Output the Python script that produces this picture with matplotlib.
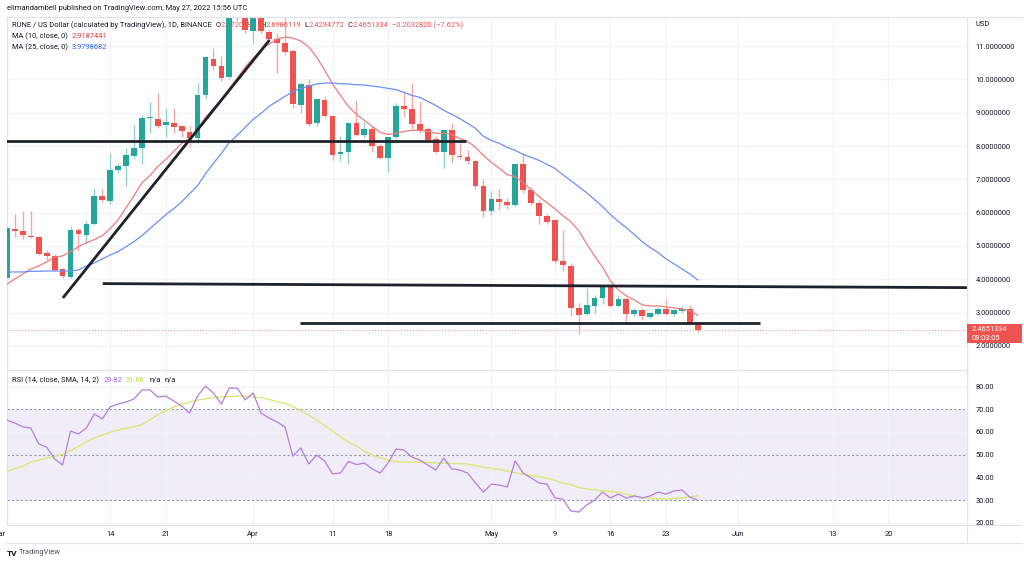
import numpy as np
import pandas as pd
import matplotlib
matplotlib.use("Agg")
import matplotlib.pyplot as plt
import matplotlib.dates as mdates
import matplotlib.transforms as mtransforms
from matplotlib.lines import Line2D
from matplotlib.patches import Rectangle

plt.rcParams['font.family'] = ['Roboto', 'DejaVu Sans']

# daily candles RUNE/USD, Mar 1 - May 27 2022
dates = pd.date_range("2022-03-01", "2022-05-27", freq="D")

opens = [4.05, 5.52, 5.46, 5.31, 5.28, 4.80, 4.70, 4.31, 4.07, 5.49,
         5.34, 5.67, 6.51, 6.36, 7.27, 7.39, 7.69, 7.93, 8.83, 8.80,
         8.62, 8.68, 8.59, 8.41, 8.23, 9.52, 10.61, 10.40, 10.07, 12.10,
         12.50, 11.45, 12.20, 11.42, 11.20, 11.09, 10.85, 9.22, 9.83, 8.68,
         9.37, 8.89, 7.75, 7.81, 8.68, 8.32, 8.50, 7.99, 7.63, 8.26,
         9.19, 9.10, 8.65, 8.50, 8.20, 7.81, 8.47, 7.69, 7.66, 7.54,
         6.81, 6.06, 6.42, 6.33, 6.24, 7.45, 6.69, 6.30, 5.91, 5.79,
         4.55, 4.40, 3.14, 2.96, 3.20, 3.44, 3.77, 3.20, 3.41, 2.96,
         3.08, 2.87, 2.96, 3.11, 2.96, 3.05, 3.11, 2.672]
highs = [5.62, 5.97, 6.06, 6.06, 5.30, 4.88, 4.75, 4.35, 5.60, 5.55,
         5.76, 6.75, 6.72, 7.78, 7.50, 7.95, 8.62, 8.92, 9.31, 9.58,
         9.13, 9.13, 8.62, 8.59, 9.88, 10.70, 10.94, 10.70, 12.30, 12.80,
         12.60, 12.50, 12.40, 11.47, 11.39, 11.87, 10.90, 9.92, 10.00, 9.40,
         9.49, 8.90, 8.29, 8.70, 9.37, 8.71, 8.59, 8.05, 8.30, 9.28,
         9.64, 9.89, 9.34, 8.56, 8.29, 8.50, 8.68, 8.08, 7.87, 7.57,
         7.00, 6.66, 6.72, 6.45, 7.45, 7.78, 6.78, 6.39, 5.97, 5.80,
         5.49, 4.49, 3.29, 3.74, 3.53, 3.80, 3.80, 3.53, 3.47, 3.14,
         3.14, 3.02, 3.17, 3.41, 3.11, 3.20, 3.23, 2.699]
lows = [4.00, 5.27, 5.22, 5.25, 4.74, 4.58, 4.26, 4.04, 4.05, 4.86,
        5.07, 5.64, 6.33, 6.27, 7.18, 6.81, 7.60, 7.47, 8.38, 8.53,
        8.26, 8.38, 8.26, 7.96, 8.08, 9.40, 10.28, 9.95, 10.00, 11.75,
        11.39, 11.09, 11.40, 11.15, 10.19, 10.73, 9.13, 8.98, 8.59, 8.60,
        8.86, 7.57, 7.54, 7.45, 8.30, 8.23, 7.81, 7.60, 7.23, 8.20,
        8.86, 8.50, 8.38, 8.14, 7.78, 7.35, 7.48, 7.60, 7.45, 6.72,
        5.88, 5.94, 6.09, 6.12, 6.20, 6.60, 6.24, 5.67, 5.67, 4.50,
        4.25, 2.90, 2.36, 2.93, 2.99, 3.26, 3.17, 3.17, 2.66, 2.90,
        2.78, 2.84, 2.93, 2.93, 2.90, 2.99, 2.63, 2.429]
closes = [5.55, 5.46, 5.34, 5.28, 4.77, 4.70, 4.28, 4.10, 5.49, 5.37,
          5.67, 6.51, 6.39, 7.27, 7.39, 7.72, 7.93, 8.83, 8.86, 8.59,
          8.71, 8.56, 8.44, 8.23, 9.52, 10.67, 10.40, 10.04, 12.10, 12.50,
          11.48, 12.20, 11.45, 11.20, 11.09, 10.82, 9.25, 9.86, 8.65, 9.40,
          8.89, 7.72, 7.81, 8.68, 8.32, 8.50, 7.99, 7.63, 8.26, 9.19,
          9.10, 8.65, 8.47, 8.17, 7.81, 8.47, 7.72, 7.66, 7.54, 6.81,
          6.06, 6.42, 6.33, 6.24, 7.45, 6.69, 6.30, 5.91, 5.73, 4.55,
          4.43, 3.14, 2.93, 3.23, 3.44, 3.77, 3.20, 3.41, 2.96, 3.08,
          2.90, 2.99, 3.11, 2.96, 3.08, 3.11, 2.66, 2.4651334]

ma10 = [3.86, 4.01, 4.16, 4.31, 4.40, 4.52, 4.67, 4.70, 4.83, 4.98,
        5.10, 5.19, 5.31, 5.52, 5.79, 6.15, 6.51, 6.90, 7.11, 7.39,
        7.60, 7.84, 8.08, 8.23, 8.50, 8.86, 9.13, 9.40, 9.73, 10.04,
        10.37, 10.64, 10.88, 11.06, 11.21, 11.27, 11.24, 11.15, 10.97, 10.67,
        10.28, 9.86, 9.52, 9.19, 8.95, 8.77, 8.59, 8.41, 8.35, 8.38,
        8.44, 8.47, 8.47, 8.44, 8.38, 8.38, 8.35, 8.23, 8.14, 7.96,
        7.72, 7.51, 7.33, 7.14, 7.08, 6.90, 6.69, 6.48, 6.30, 6.12,
        5.91, 5.73, 5.46, 5.07, 4.70, 4.37, 3.95, 3.68, 3.50, 3.38,
        3.23, 3.20, 3.20, 3.17, 3.14, 3.11, 3.05, 2.92]
ma25 = [4.22, 4.22, 4.22, 4.24, 4.24, 4.25, 4.25, 4.25, 4.25, 4.28,
        4.40, 4.49, 4.61, 4.73, 4.83, 4.98, 5.13, 5.31, 5.52, 5.73,
        5.94, 6.12, 6.33, 6.57, 6.81, 7.17, 7.48, 7.78, 8.11, 8.32,
        8.56, 8.80, 8.98, 9.19, 9.34, 9.49, 9.64, 9.73, 9.80, 9.86,
        9.89, 9.89, 9.87, 9.86, 9.84, 9.83, 9.80, 9.77, 9.73, 9.69,
        9.61, 9.52, 9.46, 9.34, 9.22, 9.07, 8.95, 8.83, 8.68, 8.53,
        8.29, 8.17, 8.08, 7.96, 7.87, 7.75, 7.66, 7.57, 7.45, 7.33,
        7.14, 6.96, 6.78, 6.60, 6.39, 6.18, 5.94, 5.73, 5.55, 5.34,
        5.13, 4.95, 4.80, 4.61, 4.46, 4.31, 4.16, 3.98]

rsi = [65.2, 63.9, 62.2, 61.7, 54.7, 53.3, 48.1, 45.4, 60.4, 59.1,
       61.7, 67.9, 65.7, 71.0, 72.3, 73.2, 74.5, 78.5, 78.5, 75.4,
       75.8, 73.6, 71.4, 68.3, 75.8, 80.2, 77.1, 72.3, 79.3, 79.3,
       74.1, 77.1, 68.3, 66.1, 64.4, 62.2, 49.4, 52.9, 45.9, 49.8,
       47.2, 41.5, 41.9, 47.0, 45.6, 46.3, 43.7, 41.9, 46.3, 52.5,
       52.0, 48.9, 47.6, 45.4, 43.2, 48.5, 43.7, 43.2, 41.9, 37.5,
       33.5, 37.0, 36.6, 35.7, 47.2, 41.9, 39.7, 37.5, 37.0, 30.9,
       30.4, 25.2, 24.7, 27.8, 30.0, 33.5, 30.9, 32.6, 30.9, 31.8,
       30.9, 31.8, 33.5, 32.6, 34.0, 34.4, 31.3, 29.82]
rsi_ma = [42.5, 43.8, 45.0, 46.6, 47.6, 48.4, 49.2, 50.1, 51.7, 53.6,
          55.6, 57.3, 58.6, 59.8, 60.8, 61.6, 62.4, 63.2, 65.3, 67.6,
          69.3, 71.0, 72.2, 73.2, 74.0, 74.6, 75.1, 75.4, 75.6, 75.8,
          75.7, 75.4, 75.1, 74.3, 73.3, 72.6, 71.1, 69.3, 67.4, 65.4,
          62.8, 60.3, 57.9, 55.5, 53.8, 51.5, 49.8, 48.6, 47.6, 46.8,
          46.7, 46.7, 46.6, 46.5, 46.3, 46.2, 46.0, 46.0, 45.9, 45.2,
          44.5, 44.0, 43.5, 42.8, 42.0, 41.4, 40.8, 40.3, 39.6, 38.6,
          37.5, 36.8, 35.5, 34.9, 34.5, 34.1, 33.8, 33.4, 32.5, 31.8,
          31.2, 30.8, 30.5, 30.4, 30.6, 31.0, 31.4, 31.86]

tick_dates = ["2022-03-01", "2022-03-14", "2022-03-21", "2022-04-01", "2022-04-11",
              "2022-04-18", "2022-05-01", "2022-05-09", "2022-05-16", "2022-05-23",
              "2022-06-01", "2022-06-13", "2022-06-20"]
tick_labels = ["Mar", "14", "21", "Apr", "11", "18", "May", "9", "16", "23", "Jun", "13", "20"]
price_ticks = [2, 3, 4, 5, 6, 7, 8, 9, 10, 11]
rsi_ticks = [20, 30, 40, 50, 60, 70, 80]

# hand-drawn lines on the chart: (days after Mar 1, price)
line_resist_days = [-2, 57.8]
line_resist_px = [8.15, 8.15]
line_trend_days = [7.04, 33.05]
line_trend_px = [3.44, 11.18]
line_support_days = [12.06, 125]
line_support_px = [3.87, 3.745]
line_floor_days = [36.94, 94.87]
line_floor_px = [2.69, 2.69]

W, H = 1024, 565
GREEN, RED = "#26a69a", "#ef5350"
GRID = "#f0f3fa"
BORDER = "#e0e3eb"
TXT = "#131722"
FS = 5.4

fig = plt.figure(figsize=(W / 100, H / 100), dpi=100)
fig.patch.set_facecolor("white")

def rect(x0, y0, x1, y1):
    return [x0 / W, 1 - y1 / H, (x1 - x0) / W, (y1 - y0) / H]

ax = fig.add_axes(rect(7, 17, 967, 370))
ax2 = fig.add_axes(rect(7, 370, 967, 525))

x = mdates.date2num(dates)
x0 = x[0]
o, h, l, c = map(np.array, (opens, highs, lows, closes))
up = c >= o
body_col = np.where(up, GREEN, RED)
wick_col = np.where(up, "#8fd3cb", "#f5a9a7")

ax.vlines(x, l, h, colors=wick_col, lw=1, zorder=2)
ax.bar(x, np.maximum(np.abs(c - o), 0.025), bottom=np.minimum(o, c),
       width=0.72, color=body_col, zorder=3)

ax.plot(x, ma10, color="#f07c7c", lw=0.9, zorder=4)
ax.plot(x, ma25, color="#6a90f5", lw=0.9, zorder=4)

for dd, pp in [(line_resist_days, line_resist_px), (line_trend_days, line_trend_px),
               (line_support_days, line_support_px), (line_floor_days, line_floor_px)]:
    ax.plot(x0 + np.array(dd), pp, color="#1e222d", lw=2, zorder=5,
            solid_capstyle="butt")

ax.axhline(closes[-1], color=RED, lw=0.7, ls=(0, (1, 2)), alpha=0.7, zorder=1)

xt = mdates.date2num(pd.to_datetime(tick_dates))
for a in (ax, ax2):
    a.set_xlim(x0 + 0.25, x0 + 120.9)
    a.set_xticks(xt)
    a.grid(True, color=GRID, lw=0.8)
    a.set_axisbelow(True)
    a.yaxis.tick_right()
    a.tick_params(axis="both", length=0, labelsize=FS, labelcolor=TXT)
    for s in a.spines.values():
        s.set_color(BORDER)
        s.set_linewidth(0.8)

ax.set_ylim(1.277, 11.873)
ax.set_yticks(price_ticks)
ax.set_yticklabels([f"{v:.7f}" for v in price_ticks])
ax.tick_params(axis="y", pad=6)
ax.tick_params(axis="x", labelbottom=False)

ax2.set_ylim(18.99, 87.27)
ax2.set_yticks(rsi_ticks)
ax2.set_yticklabels([f"{v:.2f}" for v in rsi_ticks])
ax2.tick_params(axis="y", pad=6)
ax2.set_xticklabels(tick_labels)
ax2.tick_params(axis="x", pad=4)
# the "Mar" label sits mostly off the left edge
first = ax2.get_xticklabels()[0]
first.set_transform(first.get_transform() +
                    mtransforms.ScaledTranslation(-8 / 100, 0, fig.dpi_scale_trans))

ax2.axhspan(30, 70, color="#7e57c2", alpha=0.1, lw=0, zorder=0)
for lv in (70, 50, 30):
    ax2.axhline(lv, color="#9598a1", lw=0.8, ls=(0, (2, 2)), zorder=1)
ax2.plot(x, rsi_ma, color="#d9e66a", lw=0.9, zorder=3)
ax2.plot(x, rsi, color="#b07ee0", lw=0.9, zorder=4)

# last price label on the price scale
yp = ax.transData.transform((x0, closes[-1]))[1]
fig.add_artist(Rectangle((967, yp - 13), 55, 19.5, transform=mtransforms.IdentityTransform(),
                         facecolor=RED, edgecolor="none", zorder=20))
fig.text(972 / W, (yp + 0.5) / H, f"{closes[-1]:.7f}", fontsize=FS, color="white",
         va="center", ha="left", zorder=21)
fig.text(972 / W, (yp - 8) / H, "08:03:05", fontsize=FS, color="white",
         va="center", ha="left", zorder=21)


def chain(a, parts, px, py, size=FS):
    prev = None
    for s, col, gap in parts:
        if prev is None:
            prev = a.annotate(s, xy=(px, H - py), xycoords="figure pixels", color=col,
                              fontsize=size, va="center", ha="left", zorder=2.5,
                              annotation_clip=False)
        else:
            prev = a.annotate(s, xy=(1, 0), xycoords=prev, xytext=(gap, 0),
                              textcoords="offset points", color=col, fontsize=size,
                              va="bottom", ha="left", zorder=2.5, annotation_clip=False)


chain(ax, [("RUNE / US Dollar (calculated by TradingView), 1D, BINANCE", TXT, 0),
           ("O", TXT, 3), ("2.6720888", RED, 0), ("H", TXT, 2.5), ("2.6986119", RED, 0),
           ("L", TXT, 2.5), ("2.4294772", RED, 0), ("C", TXT, 2.5), ("2.4651334", RED, 0),
           ("−0.2032820 (−7.62%)", RED, 3)], 12, 25)
chain(ax, [("MA (10, close, 0)", TXT, 0), ("2.9187441", "#f23645", 3)], 12, 36)
chain(ax, [("MA (25, close, 0)", TXT, 0), ("3.9798682", "#2962ff", 3)], 12, 47)
chain(ax2, [("RSI (14, close, SMA, 14, 2)", TXT, 0), ("29.82", "#9c6ade", 3),
            ("31.86", "#c5d64a", 3), ("n/a", TXT, 3), ("n/a", TXT, 3)], 12, 380)

fig.text(7 / W, 1 - 8 / H, "elimandambell published on TradingView.com, May 27, 2022 15:56 UTC",
         fontsize=FS, color=TXT, va="center", ha="left")
fig.text(975 / W, 1 - 25 / H, "USD", fontsize=FS, color=TXT, va="center", ha="left")
fig.text(7 / W, 1 - 553 / H, "TV", fontsize=6, fontweight="bold", color=TXT,
         va="center", ha="left")
fig.text(19 / W, 1 - 553 / H, "TradingView", fontsize=FS, color="#50535e",
         va="center", ha="left")

# frame lines around the price scale and time scale
fig.add_artist(Line2D([967 / W, 967 / W], [1 - 17 / H, 1 - 543 / H], color=BORDER, lw=0.8))
fig.add_artist(Line2D([7 / W, 1022 / W], [1 - 543 / H, 1 - 543 / H], color=BORDER, lw=0.8))
fig.add_artist(Line2D([967 / W, 1022 / W], [1 - 525 / H, 1 - 525 / H], color=BORDER, lw=0.8))
fig.add_artist(Line2D([7 / W, 1022 / W], [1 - 17 / H, 1 - 17 / H], color=BORDER, lw=0.8))

fig.savefig("out.png", dpi=100, facecolor="white")
